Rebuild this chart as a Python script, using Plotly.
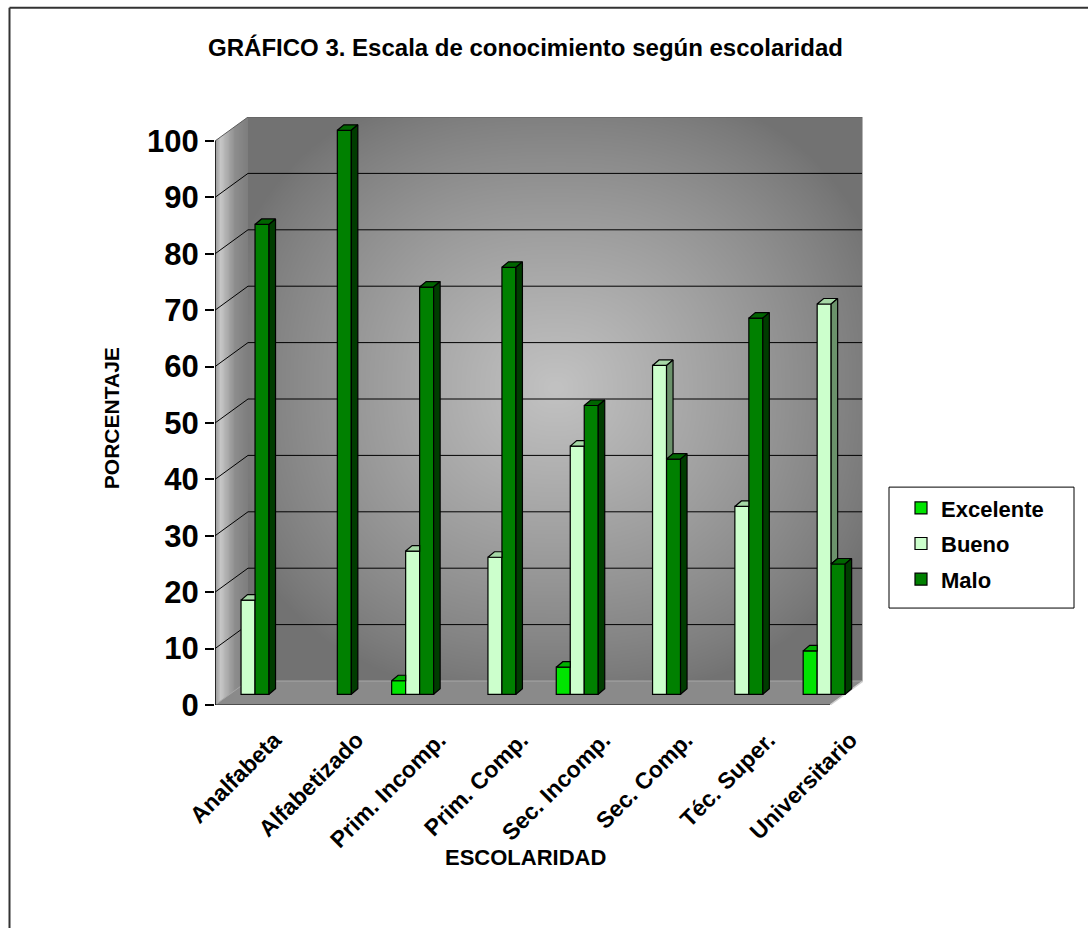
import numpy as np
import plotly.graph_objects as go

# ---------------------------------------------------------------- data
categories = ["Analfabeta", "Alfabetizado", "Prim. Incomp.", "Prim. Comp.",
              "Sec. Incomp.", "Sec. Comp.", "Téc. Super.", "Universitario"]
excelente = [None, None, 2.4, None, 4.8, None, None, 7.7]
bueno = [16.7, None, 25.4, 24.3, 44.0, 58.3, 33.3, 69.2]
malo = [83.3, 100.0, 72.2, 75.7, 51.2, 41.7, 66.7, 23.1]
y_ticks = [0, 10, 20, 30, 40, 50, 60, 70, 80, 90, 100]

series = [
    # name, values, front, top, side
    ("Excelente", excelente, "#00e400", "#00b000", "#009000"),
    ("Bueno", bueno, "#ccffcc", "#a6d8a6", "#6b926b"),
    ("Malo", malo, "#008000", "#006400", "#003c00"),
]

FONT = "Liberation Sans, Arial, sans-serif"

# ---------------------------------------------------------------- pseudo-3D geometry (data units)
X_MIN, X_MAX = -0.2224, 7.651          # front axis .. right edge of back wall
BACK_DX, BACK_DY = 0.401, 4.255          # depth offset of the back wall
Y_MAX = 100 + BACK_DY
BAR_DX, BAR_DY = 0.179, 1.9              # plane in which the bar fronts stand
BARGAP = 0.49
BAR_W = (1 - BARGAP) / 3
FACE_DX, FACE_DY = 0.079, 0.975          # thickness of each column
WALL_X = X_MIN + BACK_DX
FLOOR_RIGHT = X_MAX - BACK_DX

# pixel frame of the plotting area
L, R, B = 215, 225, 223
T = 928 - B - 588.3
PW, PH = 1088 - L - R, 928 - T - B


def px2paper(px, py):
    return (px - L) / PW, (928 - B - py) / PH


fig = go.Figure()

# ---------------------------------------------------------------- wall shading
nx, ny = 170, 150
u = (np.arange(nx) + 0.5) / nx
w = (np.arange(ny) + 0.5) / ny
U, W = np.meshgrid(u, w)
du = (U - 0.5) / 0.55
dw = (W - 0.52) / 0.55
r = (np.abs(du) ** 2.4 + np.abs(dw) ** 2.4) ** (1 / 2.4)
back_shade = 114 + 80 * np.clip(1 - r, 0, 1) ** 0.85
fig.add_trace(go.Heatmap(
    x=WALL_X + u * (X_MAX - WALL_X), y=BACK_DY + w * 100, z=back_shade,
    zmin=0, zmax=255, colorscale=[[0, "black"], [1, "white"]],
    zsmooth="best", showscale=False, hoverinfo="skip"))

sx = (np.arange(40) + 0.5) / 40
side_row = np.interp(sx, [0, 0.15, 0.3, 0.6, 1.0], [150, 200, 180, 140, 124])
fig.add_trace(go.Heatmap(
    x=X_MIN + sx * BACK_DX, y=[Y_MAX * 0.25, Y_MAX * 0.75],
    z=[side_row, side_row], zmin=0, zmax=255,
    colorscale=[[0, "black"], [1, "white"]],
    zsmooth="best", showscale=False, hoverinfo="skip"))


def poly(xs, ys, fill, line="rgba(0,0,0,0)", width=0):
    fig.add_trace(go.Scatter(x=xs, y=ys, mode="lines", fill="toself",
                             fillcolor=fill, line=dict(color=line, width=width),
                             hoverinfo="skip", showlegend=False))


def seg(xs, ys, color, width):
    fig.add_trace(go.Scatter(x=xs, y=ys, mode="lines",
                             line=dict(color=color, width=width),
                             hoverinfo="skip", showlegend=False))


# clear the corner above the side wall
poly([X_MIN, WALL_X, X_MIN, X_MIN], [100, Y_MAX, Y_MAX, 100], "white")
# floor
poly([X_MIN, FLOOR_RIGHT, X_MAX, WALL_X, X_MIN], [0, 0, BACK_DY, BACK_DY, 0], "#8a8a8a")

# grid lines on back and side walls
gx, gy = [], []
for v in y_ticks[1:-1]:
    gx += [X_MIN, WALL_X, X_MAX, None]
    gy += [v, v + BACK_DY, v + BACK_DY, None]
seg(gx, gy, "black", 1)

# wall and floor edges
seg([X_MIN, WALL_X, X_MAX], [100, Y_MAX, Y_MAX], "#5c5c5c", 1)
seg([X_MAX, X_MAX], [BACK_DY, Y_MAX], "#b4b4b4", 2)
seg([X_MIN, WALL_X, X_MAX], [0, BACK_DY, BACK_DY], "#a8a8a8", 1)
seg([FLOOR_RIGHT, X_MAX], [0, BACK_DY], "#d0d0d0", 1.5)
seg([X_MIN, FLOOR_RIGHT], [0, 0], "#3a3a3a", 1.5)
seg([X_MIN, X_MIN], [0, 100], "black", 1.5)

# ---------------------------------------------------------------- columns (overlay subplot)
xs_bar = [i + BAR_DX for i in range(len(categories))]
for k, (name, vals, front, top, side) in enumerate(series):
    fig.add_trace(go.Bar(
        x=xs_bar, y=vals, base=BAR_DY, name=name, xaxis="x2", yaxis="y2",
        marker=dict(color=front, line=dict(color="black", width=1.2)),
        legendgroup=name, customdata=categories,
        hovertemplate="%{customdata}<br>" + name + ": %{y}%<extra></extra>"))

all_vals = [s[1] for s in series]
for k, (name, vals, front, top, side) in enumerate(series):
    tx, ty, sxs, sys_ = [], [], [], []
    for i, v in enumerate(vals):
        if v is None:
            continue
        x0 = i + BAR_DX - 1.5 * BAR_W + k * BAR_W
        x1 = x0 + BAR_W
        t = BAR_DY + v
        nxt = all_vals[k + 1][i] if k + 1 < len(all_vals) else None
        t_next = BAR_DY + nxt if nxt is not None else None
        if t_next is not None and t_next > t:
            tx += [x0, x1, x1, x0 + FACE_DX, x0, None]
            ty += [t, t, t + FACE_DY, t + FACE_DY, t, None]
        else:
            tx += [x0, x1, x1 + FACE_DX, x0 + FACE_DX, x0, None]
            ty += [t, t, t + FACE_DY, t + FACE_DY, t, None]
        low = BAR_DY if t_next is None else max(BAR_DY, t_next)
        if low < t:
            sxs += [x1, x1 + FACE_DX, x1 + FACE_DX, x1, x1, None]
            sys_ += [low, low + FACE_DY, t + FACE_DY, t, low, None]
    for px_, py_, col in ((tx, ty, top), (sxs, sys_, side)):
        if px_:
            fig.add_trace(go.Scatter(
                x=px_, y=py_, mode="lines", fill="toself", fillcolor=col,
                line=dict(color="black", width=1.2), xaxis="x2", yaxis="y2",
                hoverinfo="skip", showlegend=False))

# ---------------------------------------------------------------- layout
lx0, ly0 = px2paper(889, 608)
lx1, ly1 = px2paper(1074, 487)
bx0, by0 = px2paper(9.5, 940)
bx1, by1 = px2paper(1100, 7.5)
legx, legy = px2paper(901, 487)
ytx, yty = px2paper(111, 418)
xtx, xty = px2paper(525, 858)

fig.update_layout(
    width=1088, height=928,
    margin=dict(l=L, r=R, t=T, b=B, autoexpand=False),
    paper_bgcolor="white", plot_bgcolor="white",
    font=dict(family=FONT, color="black"),
    title=dict(text="GRÁFICO 3. Escala de conocimiento según escolaridad",
               x=525.5 / 1088, xref="container", xanchor="center",
               y=1 - 48 / 928, yref="container", yanchor="middle",
               font=dict(size=24, weight="bold", family=FONT)),
    barmode="group", bargap=BARGAP, bargroupgap=0,
    xaxis=dict(range=[X_MIN, X_MAX], showgrid=False, zeroline=False,
               showline=False, ticks="", ticklabelstandoff=16,
               tickvals=[i + 0.5 for i in range(len(categories))],
               ticktext=categories, tickangle=-45,
               tickfont=dict(size=23, weight="bold", family=FONT)),
    yaxis=dict(range=[0, Y_MAX], showgrid=False, zeroline=False,
               showline=False, ticks="outside", ticklen=9, tickwidth=1.5,
               tickcolor="black", tickvals=y_ticks,
               tickfont=dict(size=31, weight="bold", family=FONT)),
    xaxis2=dict(range=[X_MIN, X_MAX], overlaying="x", visible=False),
    yaxis2=dict(range=[0, Y_MAX], overlaying="y", visible=False),
    legend=dict(x=legx, y=legy, xanchor="left", yanchor="top",
                bgcolor="rgba(0,0,0,0)", borderwidth=0, tracegroupgap=4,
                font=dict(size=22, weight="bold", family=FONT)),
    shapes=[
        dict(type="rect", xref="paper", yref="paper", x0=lx0, y0=ly0, x1=lx1, y1=ly1,
             line=dict(color="black", width=1), fillcolor="white", layer="below"),
        dict(type="line", xref="paper", yref="paper", x0=bx0, y0=by1, x1=bx1, y1=by1,
             line=dict(color="#333333", width=2)),
        dict(type="line", xref="paper", yref="paper", x0=bx0, y0=by1, x1=bx0, y1=by0,
             line=dict(color="#333333", width=2)),
    ],
    annotations=[
        dict(text="PORCENTAJE", x=ytx, y=yty, xref="paper", yref="paper",
             textangle=-90, showarrow=False, xanchor="center", yanchor="middle",
             font=dict(size=21, weight="bold", family=FONT)),
        dict(text="ESCOLARIDAD", x=xtx, y=xty, xref="paper", yref="paper",
             showarrow=False, xanchor="center", yanchor="middle",
             font=dict(size=22, weight="bold", family=FONT)),
    ],
)

fig.write_html("out.html")
